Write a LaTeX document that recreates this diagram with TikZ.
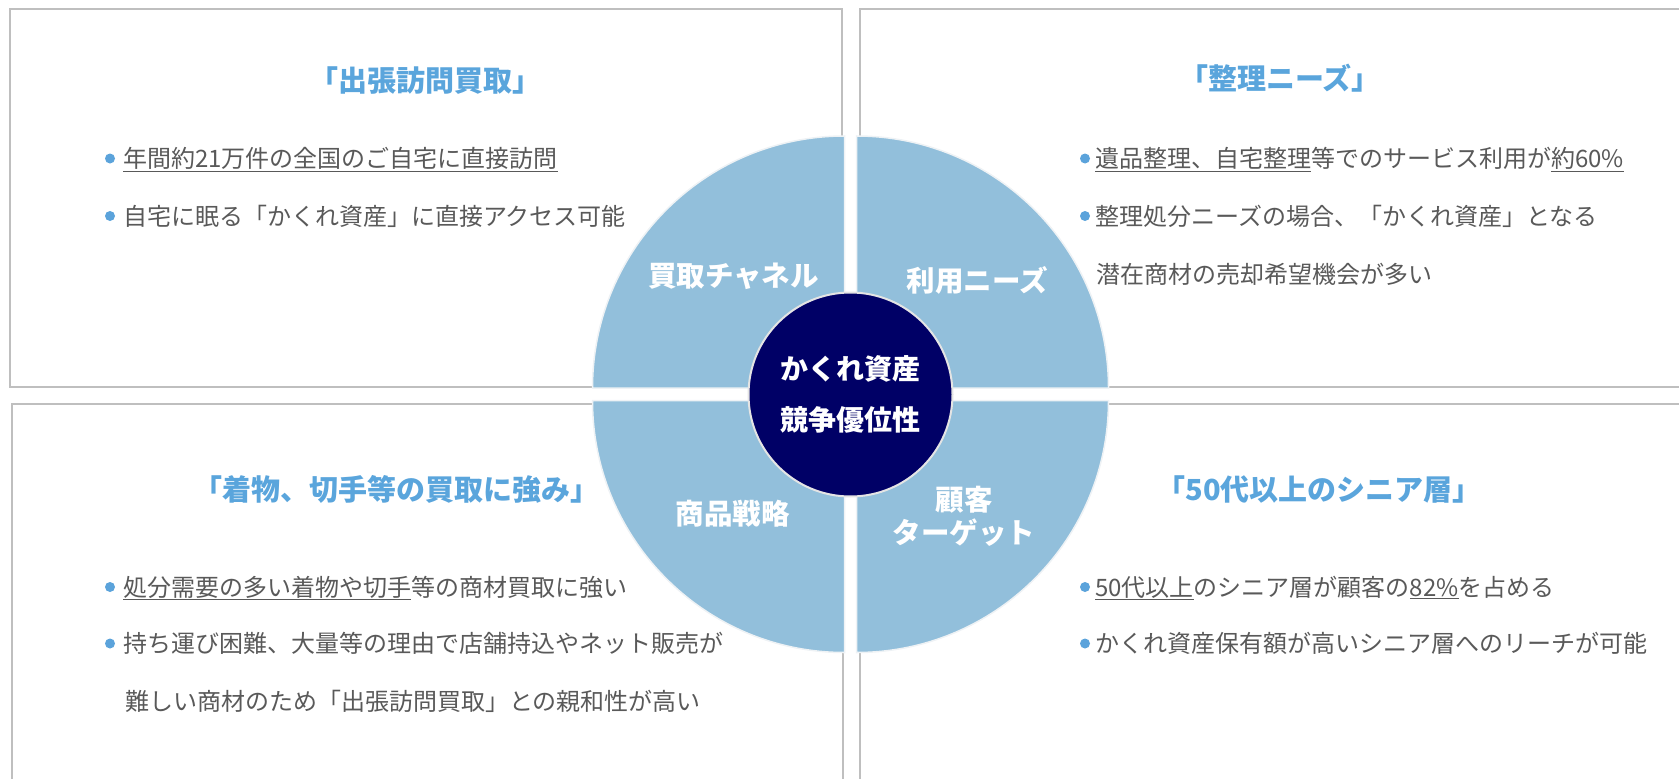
\documentclass[tikz,border=0pt]{standalone}
\usepackage{fontspec}
\setmainfont{Noto Sans CJK JP}
\definecolor{boxgray}{HTML}{BFBFBF}
\definecolor{quadblue}{HTML}{92BFDB}
\definecolor{quadedge}{HTML}{EEF2F5}
\definecolor{navy}{HTML}{000066}
\definecolor{hubedge}{HTML}{E4E4E4}
\definecolor{titleblue}{HTML}{5AA5DC}
\definecolor{bodygray}{HTML}{595959}
\definecolor{bulblue}{HTML}{5BA3DB}
\begin{document}
\begin{tikzpicture}[x=1pt,y=-1pt,
  panel/.style={draw=boxgray, line width=2pt},
  quad/.style={fill=quadblue, draw=quadedge, line width=1.5pt},
  hub/.style={circle, fill=navy, draw=hubedge, line width=2pt, minimum size=204pt, inner sep=0pt,
    text=white, align=center, font=\fontsize{28}{51}\selectfont\bfseries},
  ttl/.style={anchor=base, text=titleblue, font=\fontsize{29}{34}\selectfont\bfseries, inner sep=0pt},
  body/.style={anchor=base west, text=bodygray, font=\fontsize{24}{28}\selectfont, inner sep=0pt},
  dot/.style={circle, fill=bulblue, minimum size=10pt, inner sep=0pt},
  qlabel/.style={text=white, font=\fontsize{28.5}{33}\selectfont\bfseries, align=center, inner sep=0pt}]
\useasboundingbox (0,0) rectangle (1679,779);
\clip (0,0) rectangle (1679,779);
% panels
\draw[panel] (9.7,8.7) rectangle (841.7,387);
\draw[panel] (860,8.7) rectangle (1700,387);
\draw[panel] (12,403.7) rectangle (843,800);
\draw[panel] (860,403.7) rectangle (1700,800);
% quadrants
\filldraw[quad] (844.5,388) -- ++(-252,0) arc[start angle=180,end angle=270,radius=252] -- cycle;
\filldraw[quad] (856.5,388) -- ++(252,0) arc[start angle=0,end angle=-90,radius=252] -- cycle;
\filldraw[quad] (844.5,400.5) -- ++(-252,0) arc[start angle=180,end angle=90,radius=252] -- cycle;
\filldraw[quad] (856.5,400.5) -- ++(252,0) arc[start angle=0,end angle=90,radius=252] -- cycle;
% hub
\node[hub] (hub) at (850.5,394.5) {かくれ資産\\競争優位性};
% quadrant labels
\node[qlabel, anchor=base] (q1) at (733.5,286.5) {買取チャネル};
\node[qlabel, anchor=base] (q2) at (977.5,291) {利用ニーズ};
\node[qlabel, anchor=base] (q3) at (732.5,524.5) {商品戦略};
\node[qlabel] (q4) at (964,516) {顧客\\ターゲット};
% titles
\node[ttl] (t1) at (425,91) {「出張訪問買取」};
\node[ttl] (t2) at (1280,89) {「整理ニーズ」};
\node[ttl] (t3) at (396,500) {「着物、切手等の買取に強み」};
\node[ttl] (t4) at (1319,500) {「50代以上のシニア層」};
% top-left bullets
\node[dot] (d1) at (110,158.5) {};
\node[body] (a1) at (123,167.5) {\underline{年間約21万件の全国のご自宅に直接訪問}};
\node[dot] (d2) at (110,216) {};
\node[body] (a2) at (123,225) {自宅に眠る「かくれ資産」に直接アクセス可能};
% top-right bullets
\node[dot] (d3) at (1085,158.5) {};
\node[body] (b1) at (1095,167.5) {\underline{遺品整理、自宅整理}等でのサービス利用が\underline{約60\%}};
\node[dot] (d4) at (1085,216) {};
\node[body] (b2) at (1095,225) {整理処分ニーズの場合、「かくれ資産」となる};
\node[body] (b3) at (1096,283) {潜在商材の売却希望機会が多い};
% bottom-left bullets
\node[dot] (d5) at (110,587) {};
\node[body] (c1) at (123,596) {\underline{処分需要の多い着物や切手}等の商材買取に強い};
\node[dot] (d6) at (110,643.5) {};
\node[body] (c2) at (123,652.5) {持ち運び困難、大量等の理由で店舗持込やネット販売が};
\node[body] (c3) at (125,710.5) {難しい商材のため「出張訪問買取」との親和性が高い};
% bottom-right bullets
\node[dot] (d7) at (1085,587) {};
\node[body] (e1) at (1095,596) {\underline{50代以上}のシニア層が顧客の\underline{82\%}を占める};
\node[dot] (d8) at (1085,643.5) {};
\node[body] (e2) at (1095,652.5) {かくれ資産保有額が高いシニア層へのリーチが可能};
\end{tikzpicture}
\end{document}
